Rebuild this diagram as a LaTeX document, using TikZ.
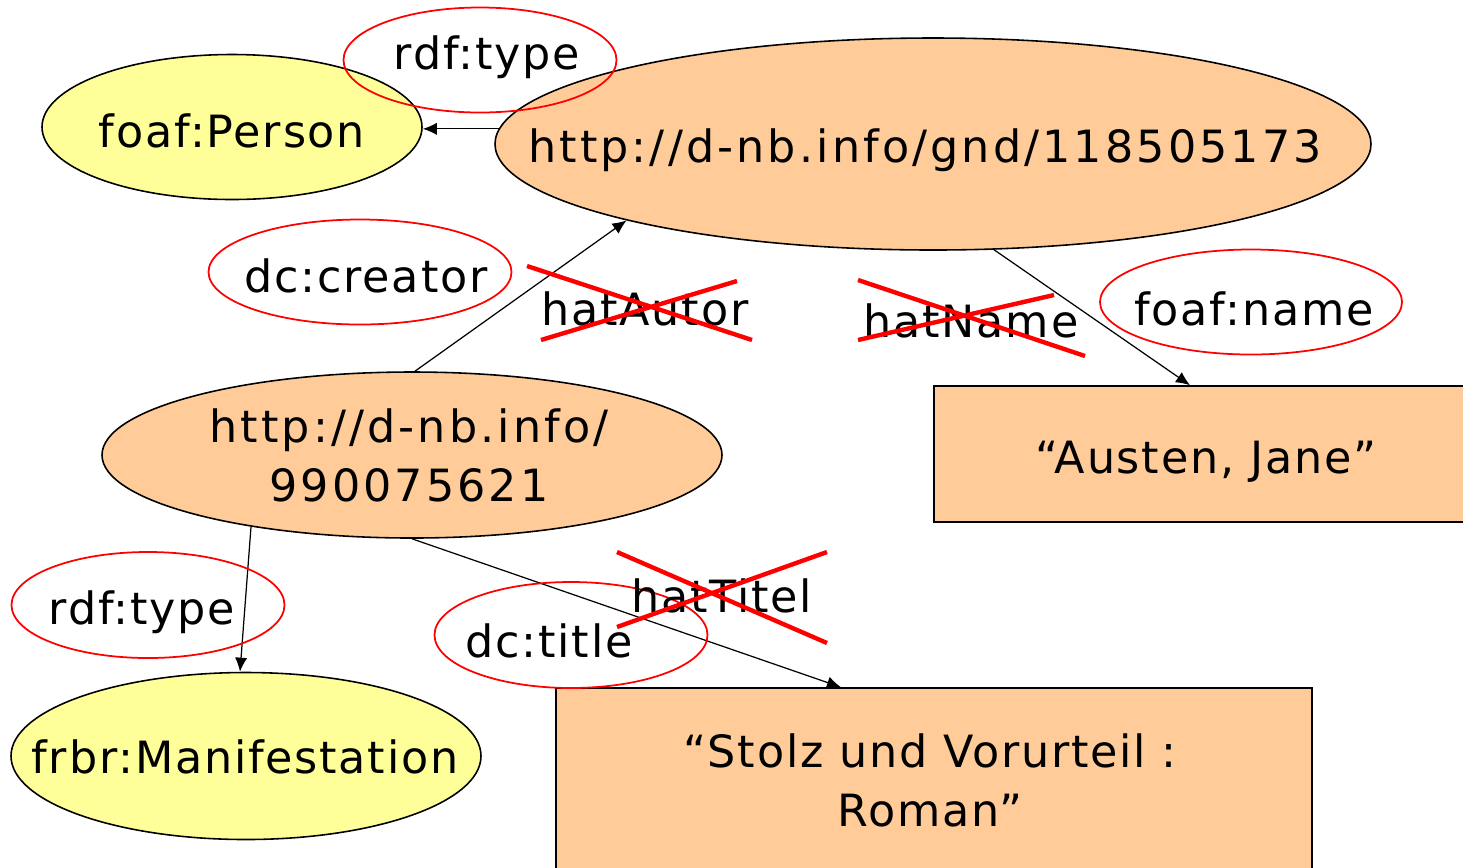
\documentclass[tikz,border=0pt]{standalone}
\usepackage{fontspec}
\setmainfont[LetterSpace=4]{DejaVu Sans}
\newfontfamily\urlfont[LetterSpace=7]{DejaVu Sans}
\usepackage{tikz}
\usetikzlibrary{arrows.meta,shapes.geometric,calc}
\definecolor{litcolor}{RGB}{255,204,153}
\definecolor{classcolor}{RGB}{255,255,153}
\definecolor{propcolor}{RGB}{255,0,0}
\tikzstyle{resource}=[ellipse,draw=black,fill=litcolor,line width=0.9pt,inner sep=0pt]
\tikzstyle{classnode}=[resource,fill=classcolor]
\tikzstyle{literal}=[rectangle,draw=black,fill=litcolor,line width=0.9pt,inner sep=0pt]
\tikzstyle{prop}=[ellipse,draw=propcolor,line width=1pt,inner sep=0pt]
\tikzstyle{lbl}=[inner sep=0pt,font=\fontsize{25.3}{33.6}\selectfont,align=center]
\tikzstyle{urllbl}=[lbl,font=\urlfont\fontsize{25.3}{33.6}\selectfont]
\tikzstyle{rdfedge}=[-{Latex[length=8pt,width=7pt]},line width=0.7pt,black]
\tikzstyle{strike}=[line width=2.5pt,propcolor]

\begin{document}
\begin{tikzpicture}[x=0.02cm,y=-0.02cm]
\def\px{0.02cm}
\useasboundingbox (0,0) rectangle (1463,867);

    % resources and literals
    \node[resource, minimum width=876*\px, minimum height=212*\px] (gnd) at (933,144) {};
    \node[classnode, minimum width=380*\px, minimum height=145*\px] (person) at (232,127) {};
    \node[resource, minimum width=620*\px, minimum height=166*\px] (dnb) at (412,455) {};
    \node[classnode, minimum width=470*\px, minimum height=167*\px] (manif) at (246,756) {};
    \node[literal, minimum width=546*\px, minimum height=136*\px] (austen) at (1207,454) {};
    \node[literal, minimum width=756*\px, minimum height=212*\px] (stolz) at (934,794) {};

    \draw[rdfedge] (gnd.178) -- (gnd.178 -| person.east);
    \draw[rdfedge] (dnb.88) -- (gnd.194);
    \draw[rdfedge] (gnd.300) -- ([xshift=-17*\px]austen.north);
    \draw[rdfedge] (dnb.204) -- ([xshift=-6*\px]manif.north);
    \draw[rdfedge] (dnb.south) -- ([xshift=-93*\px]stolz.north);

    % properties
    \foreach \name/\x/\y/\w/\h in {typeA/480/60/273/105, creator/360/272/303/105, name/1251/302/302/105, typeB/148/605/273/106, title/571/635/273/106}
        \node[prop, minimum width=\w*\px, minimum height=\h*\px] (\name) at (\x,\y) {};

    \node[urllbl, anchor=base] (gnd-txt) at (925,162) {http://d-nb.info/gnd/118505173};
    \node[lbl, anchor=base] (person-txt) at (232,147) {foaf:Person};
    \node[urllbl] (dnb-txt) at (409,455) {http://d-nb.info/\\990075621};
    \node[lbl, anchor=base] (manif-txt) at (245,773) {frbr:Manifestation};
    \node[lbl, anchor=base] (austen-txt) at (1206,473) {“Austen, Jane”};
    \node[lbl] (stolz-txt) at (930,780) {“Stolz und Vorurteil :\\Roman”};

    \node[lbl, anchor=base] (typeA-txt) at (487,69) {rdf:type};
    \node[lbl, anchor=base] (creator-txt) at (366,292) {dc:creator};
    \node[lbl, anchor=base] (name-txt) at (1254,325) {foaf:name};
    \node[lbl, anchor=base] (typeB-txt) at (142,624) {rdf:type};
    \node[lbl, anchor=base] (title-txt) at (549,657) {dc:title};

    \node[lbl, anchor=base] (autor-txt) at (645,325) {hatAutor};
    \node[lbl, anchor=base] (hname-txt) at (971,337) {hatName};
    \node[lbl, anchor=base] (titel-txt) at (722,612) {hatTitel};

    % crossed out
    \foreach \ax/\ay/\bx/\by/\cx/\cy/\ex/\ey in {527/266/752/340/541/340/737/281, 858/280/1085/356/858/340/1054/295, 617/552/827/643/617/627/827/552}
        \draw[strike] (\ax,\ay) -- (\bx,\by) (\cx,\cy) -- (\ex,\ey);
\end{tikzpicture}
\end{document}
